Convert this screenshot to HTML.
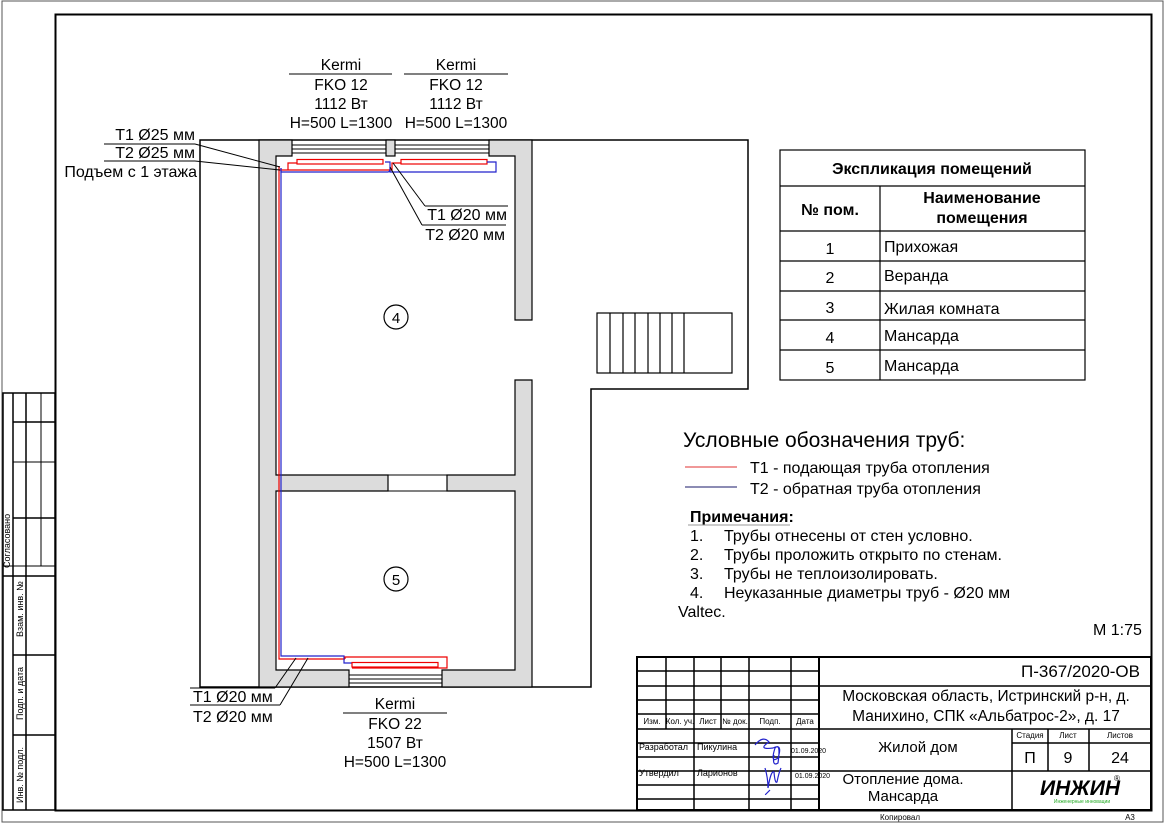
<!DOCTYPE html>
<html><head><meta charset="utf-8"><style>
html,body{margin:0;padding:0;background:#fff;}
svg{display:block;font-family:"Liberation Sans",Arial,sans-serif;}
</style></head><body>
<svg width="1166" height="824" viewBox="0 0 1166 824" xmlns="http://www.w3.org/2000/svg">
<rect x="2" y="1" width="1161" height="821" fill="none" stroke="#555" stroke-width="1"/>
<rect x="55.5" y="14.5" width="1096" height="796" fill="none" stroke="#000" stroke-width="2"/>

<g stroke="#000" fill="none">
<rect x="3" y="393" width="52" height="417" stroke-width="1.5"/>
<line x1="13" y1="393" x2="13" y2="810" stroke-width="1.5"/>
<line x1="26" y1="393" x2="26" y2="810" stroke-width="1.5"/>
<line x1="41" y1="393" x2="41" y2="566" stroke-width="1"/>
<line x1="13" y1="422" x2="55" y2="422" stroke-width="1.5"/>
<line x1="13" y1="462" x2="55" y2="462" stroke-width="1"/>
<line x1="13" y1="518" x2="55" y2="518" stroke-width="1.5"/>
<line x1="3" y1="566" x2="55" y2="566" stroke-width="1"/>
<line x1="3" y1="576" x2="55" y2="576" stroke-width="1.5"/>
<line x1="13" y1="655" x2="55" y2="655" stroke-width="1.5"/>
<line x1="13" y1="735" x2="55" y2="735" stroke-width="1.5"/>
</g>
<g font-size="9" fill="#000">
<text transform="translate(10,568) rotate(-90)">Согласовано</text>
<text transform="translate(23,637) rotate(-90)">Взам. инв. №</text>
<text transform="translate(23,720) rotate(-90)">Подп. и дата</text>
<text transform="translate(23,803) rotate(-90)">Инв. № подл.</text>
</g>

<path d="M200,140 H748 V389 H591 V687 H200 Z" fill="none" stroke="#000" stroke-width="1.5"/>
<g fill="#dcdcdc" stroke="#000" stroke-width="1.2">
<path d="M259,140 H292 V156 H276 V475 H388 V491 H276 V670 H349 V687 H259 Z"/>
<rect x="386" y="140" width="9" height="16"/>
<path d="M489,140 H532 V320 H515 V156 H489 Z"/>
<path d="M515,380 H532 V687 H442 V670 H515 V491 H447 V475 H515 Z"/>
</g>
<g stroke="#000" stroke-width="1">
<line x1="292" y1="145" x2="386" y2="145"/><line x1="292" y1="149" x2="386" y2="149"/><line x1="292" y1="153" x2="386" y2="153"/>
<line x1="395" y1="145" x2="489" y2="145"/><line x1="395" y1="149" x2="489" y2="149"/><line x1="395" y1="153" x2="489" y2="153"/>
<line x1="349" y1="675" x2="442" y2="675"/><line x1="349" y1="679" x2="442" y2="679"/><line x1="349" y1="683" x2="442" y2="683"/>
<line x1="388" y1="475" x2="447" y2="475"/><line x1="388" y1="491" x2="447" y2="491"/>
<line x1="388" y1="475" x2="388" y2="491"/><line x1="447" y1="475" x2="447" y2="491"/>
</g>
<g fill="none" stroke="#000" stroke-width="1.2">
<rect x="597" y="313" width="135" height="60"/>
<line x1="610" y1="313" x2="610" y2="373"/><line x1="623" y1="313" x2="623" y2="373"/>
<line x1="635" y1="313" x2="635" y2="373"/><line x1="648" y1="313" x2="648" y2="373"/>
<line x1="660" y1="313" x2="660" y2="373"/><line x1="672" y1="313" x2="672" y2="373"/>
<line x1="684" y1="313" x2="684" y2="373"/>
</g>

<g fill="none" stroke-width="1.2">
<path d="M279,166 V659 H345" stroke="#e00"/>
<path d="M281,168 V656 H344 V663 H352" stroke="#22c"/>
<rect x="297" y="159.5" width="86" height="4.5" stroke="#e00"/>
<path d="M279,170 H390 M288,170 V163 H297" stroke="#e00"/>
<path d="M281,168 V172 H388 Q390,172 390,168 V162 H385" stroke="#22c"/>
<rect x="401" y="159.5" width="86" height="4.5" stroke="#e00"/>
<path d="M390,170 H392 V163 H401" stroke="#e00"/>
<path d="M390,170 V172 H496 V162 H487" stroke="#22c"/>
<rect x="352" y="662.5" width="86" height="4.5" stroke="#e00"/>
<path d="M345,659 V657 H447 V668 H352" stroke="#e00"/>
</g>

<g stroke="#000" stroke-width="1" fill="none">
<line x1="104" y1="144" x2="195" y2="144"/><line x1="195" y1="144" x2="280" y2="167"/>
<line x1="104" y1="161" x2="195" y2="161"/><line x1="195" y1="161" x2="280" y2="170"/>
<line x1="393" y1="163" x2="425" y2="206"/><line x1="425" y1="206" x2="508" y2="206"/>
<line x1="390" y1="167" x2="422" y2="225"/><line x1="422" y1="225" x2="506" y2="225"/>
<line x1="296" y1="658" x2="275" y2="688"/><line x1="190" y1="688" x2="275" y2="688"/>
<line x1="308" y1="658" x2="280" y2="705"/><line x1="190" y1="705" x2="280" y2="705"/>
<line x1="289" y1="74" x2="392" y2="74"/><line x1="404" y1="74" x2="508" y2="74"/>
<line x1="343" y1="713" x2="447" y2="713"/>
</g>
<g font-size="16" fill="#000">
<text x="195" y="140" text-anchor="end">T1 Ø25 мм</text>
<text x="195" y="158" text-anchor="end">T2 Ø25 мм</text>
<text x="197" y="177" text-anchor="end">Подъем с 1 этажа</text>
<text x="507" y="220" text-anchor="end">T1 Ø20 мм</text>
<text x="505" y="240" text-anchor="end">T2 Ø20 мм</text>
<text x="193" y="702">T1 Ø20 мм</text>
<text x="193" y="722">T2 Ø20 мм</text>
<g text-anchor="middle" font-size="15.5">
<text x="341" y="70">Kermi</text><text x="341" y="90">FKO 12</text><text x="341" y="109">1112 Вт</text><text x="341" y="128">H=500 L=1300</text>
<text x="456" y="70">Kermi</text><text x="456" y="90">FKO 12</text><text x="456" y="109">1112 Вт</text><text x="456" y="128">H=500 L=1300</text>
<text x="395" y="709">Kermi</text><text x="395" y="729">FKO 22</text><text x="395" y="748">1507 Вт</text><text x="395" y="767">H=500 L=1300</text>
</g>
</g>
<circle cx="396" cy="317" r="12" fill="none" stroke="#000" stroke-width="1.2"/>
<text x="396" y="323" font-size="15" text-anchor="middle">4</text>
<circle cx="396" cy="579" r="12" fill="none" stroke="#000" stroke-width="1.2"/>
<text x="396" y="585" font-size="15" text-anchor="middle">5</text>

<g stroke="#000" fill="none" stroke-width="1.2">
<rect x="780" y="150" width="305" height="230"/>
<line x1="780" y1="186" x2="1085" y2="186"/>
<line x1="880" y1="186" x2="880" y2="380"/>
<line x1="780" y1="231" x2="1085" y2="231"/>
<line x1="780" y1="261" x2="1085" y2="261"/>
<line x1="780" y1="291" x2="1085" y2="291"/>
<line x1="780" y1="320" x2="1085" y2="320"/>
<line x1="780" y1="350" x2="1085" y2="350"/>
</g>
<g font-size="16" fill="#000">
<text x="932" y="174" text-anchor="middle" font-weight="bold">Экспликация помещений</text>
<text x="830" y="215" text-anchor="middle" font-weight="bold">№ пом.</text>
<text x="982" y="203" text-anchor="middle" font-weight="bold">Наименование</text>
<text x="982" y="223" text-anchor="middle" font-weight="bold">помещения</text>
<text x="830" y="254" text-anchor="middle">1</text><text x="884" y="252">Прихожая</text>
<text x="830" y="283" text-anchor="middle">2</text><text x="884" y="281">Веранда</text>
<text x="830" y="313" text-anchor="middle">3</text><text x="884" y="314">Жилая комната</text>
<text x="830" y="343" text-anchor="middle">4</text><text x="884" y="341">Мансарда</text>
<text x="830" y="373" text-anchor="middle">5</text><text x="884" y="371">Мансарда</text>
</g>

<text x="683" y="447" font-size="21">Условные обозначения  труб:</text>
<line x1="685" y1="467" x2="737" y2="467" stroke="#e03030" stroke-width="1"/>
<line x1="685" y1="487" x2="737" y2="487" stroke="#1a1a6a" stroke-width="1"/>
<g font-size="16">
<text x="750" y="473">T1 - подающая труба отопления</text>
<text x="750" y="494">T2 - обратная труба отопления</text>
<text x="690" y="522" font-weight="bold">Примечания:</text>
<line x1="688" y1="525" x2="790" y2="525" stroke="#999" stroke-width="1"/>
<text x="690" y="541">1.</text><text x="724" y="541">Трубы отнесены от стен условно.</text>
<text x="690" y="560">2.</text><text x="724" y="560">Трубы проложить открыто по стенам.</text>
<text x="690" y="579">3.</text><text x="724" y="579">Трубы не теплоизолировать.</text>
<text x="690" y="598">4.</text><text x="724" y="598">Неуказанные диаметры труб - Ø20 мм</text>
<text x="678" y="617">Valtec.</text>
<text x="1093" y="635">М 1:75</text>
</g>

<g stroke="#000" fill="none">
<rect x="637" y="657" width="514" height="153" stroke-width="2"/>
<line x1="819" y1="657" x2="819" y2="810" stroke-width="2"/>
<g stroke-width="1.5">
<line x1="666" y1="657" x2="666" y2="729"/>
<line x1="694" y1="657" x2="694" y2="810"/>
<line x1="721" y1="657" x2="721" y2="729"/>
<line x1="749" y1="657" x2="749" y2="810"/>
<line x1="791" y1="657" x2="791" y2="810"/>
<line x1="637" y1="671" x2="819" y2="671"/>
<line x1="637" y1="686" x2="819" y2="686"/>
<line x1="637" y1="700" x2="819" y2="700"/>
<line x1="637" y1="714" x2="819" y2="714"/>
<line x1="637" y1="729" x2="1151" y2="729"/>
<line x1="637" y1="743" x2="819" y2="743"/>
<line x1="637" y1="757" x2="819" y2="757"/>
<line x1="637" y1="771" x2="1151" y2="771"/>
<line x1="637" y1="785" x2="819" y2="785"/>
<line x1="637" y1="799" x2="819" y2="799"/>
<line x1="819" y1="686" x2="1151" y2="686"/>
<line x1="1012" y1="729" x2="1012" y2="810"/>
<line x1="1048" y1="729" x2="1048" y2="771"/>
<line x1="1089" y1="729" x2="1089" y2="771"/>
<line x1="1012" y1="743" x2="1151" y2="743"/>
</g>
</g>
<g font-size="8" fill="#000">
<text x="652" y="724" text-anchor="middle">Изм.</text>
<text x="680" y="724" text-anchor="middle">Кол. уч.</text>
<text x="708" y="724" text-anchor="middle">Лист</text>
<text x="735" y="724" text-anchor="middle">№ док.</text>
<text x="770" y="724" text-anchor="middle">Подп.</text>
<text x="805" y="724" text-anchor="middle">Дата</text>
<text x="639" y="750" font-size="9">Разработал</text>
<text x="697" y="750" font-size="9">Пикулина</text>
<text x="791" y="753" font-size="7">01.09.2020</text>
<text x="639" y="776" font-size="9">Утвердил</text>
<text x="697" y="776" font-size="9">Ларионов</text>
<text x="795" y="778" font-size="7">01.09.2020</text>
<text x="1030" y="738" text-anchor="middle">Стадия</text>
<text x="1068" y="738" text-anchor="middle">Лист</text>
<text x="1120" y="738" text-anchor="middle">Листов</text>
<text x="900" y="820" text-anchor="middle">Копировал</text>
<text x="1130" y="820" text-anchor="middle">А3</text>
</g>
<path d="M755,745 q8,-10 14,-3 q-12,8 4,6 q10,-5 5,10 q-8,6 -3,-10 q6,-6 3,15 q-6,4 -4,-8 M765,768 q3,10 3,20 q3,-18 6,-16 q1,12 3,10 q2,-10 4,-14 M770,790 q-6,6 -4,4" fill="none" stroke="#22c" stroke-width="1.2"/>
<g fill="#000">
<text x="1140" y="677" font-size="17" text-anchor="end">П-367/2020-ОВ</text>
<text x="986" y="701" font-size="15.5" text-anchor="middle">Московская область, Истринский р-н, д.</text>
<text x="986" y="721" font-size="15.5" text-anchor="middle">Манихино, СПК «Альбатрос-2», д. 17</text>
<text x="918" y="752" font-size="15" text-anchor="middle">Жилой дом</text>
<text x="1030" y="763" font-size="16" text-anchor="middle">П</text>
<text x="1068" y="763" font-size="16" text-anchor="middle">9</text>
<text x="1120" y="763" font-size="16" text-anchor="middle">24</text>
<text x="903" y="784" font-size="15" text-anchor="middle">Отопление дома.</text>
<text x="903" y="801" font-size="15" text-anchor="middle">Мансарда</text>
<text x="1080" y="795" font-size="21" font-weight="bold" font-style="italic" text-anchor="middle">ИНЖИН</text>
<text x="1114" y="781" font-size="8">®</text>
<text x="1082" y="803" font-size="5" fill="#2a2" text-anchor="middle">Инженерные инновации</text>
</g>
</svg>
</body></html>
